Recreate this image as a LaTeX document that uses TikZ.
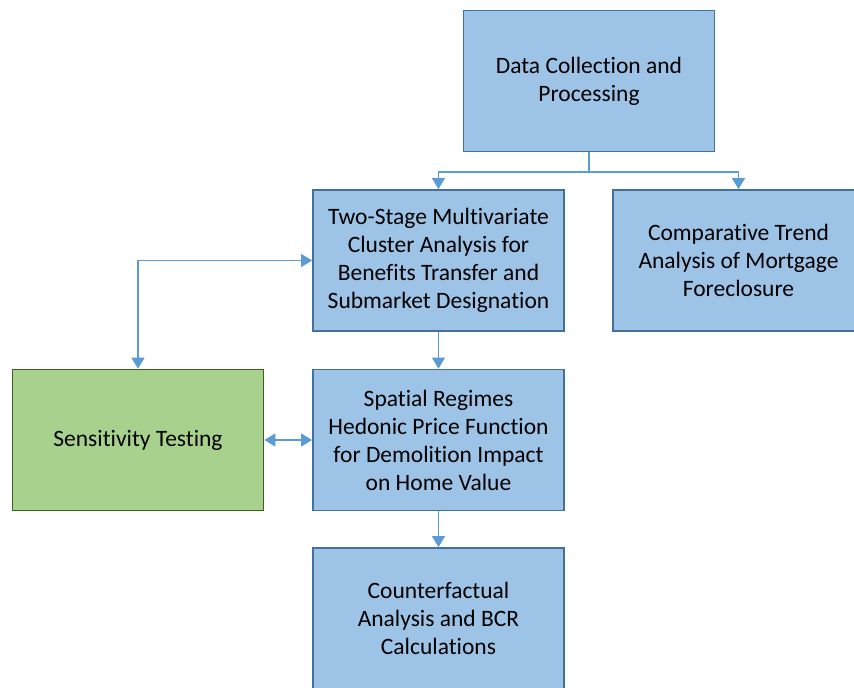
\documentclass[tikz,border=0pt]{standalone}
\usepackage{fontspec}
\setmainfont[Ligatures={NoCommon}]{Carlito}
\usetikzlibrary{arrows.meta}
\definecolor{bfill}{HTML}{9DC3E6}
\definecolor{bdraw}{HTML}{41719C}
\definecolor{gfill}{HTML}{A9D18E}
\definecolor{gdraw}{HTML}{3B5E25}
\definecolor{arr}{HTML}{5B9BD5}
\tikzset{
  box/.style={draw=bdraw, fill=bfill, line width=1.8pt, minimum width=251pt, minimum height=141pt,
    align=center, inner sep=0pt, font=\fontsize{23.5}{28}\selectfont, text=black},
  gbox/.style={box, draw=gdraw, fill=gfill},
  conn/.style={draw=arr, line width=1.3pt, -{Triangle[width=13pt,length=11pt]}},
  conn2/.style={draw=arr, line width=1.3pt, {Triangle[width=13pt,length=11pt]}-{Triangle[width=13pt,length=11pt]}}
}
\begin{document}
\begin{tikzpicture}[x=1pt,y=-1pt]
\useasboundingbox (0,0) rectangle (854,688);
\clip (0,0) rectangle (854,688);
\node[box] (dc) at (589,81) {Data Collection and\\Processing};
\node[box] (ts) at (438.5,260.5) {Two-Stage Multivariate\\Cluster Analysis for\\Benefits Transfer and\\Submarket Designation};
\node[box] (ct) at (738.5,260.5) {Comparative Trend\\Analysis of Mortgage\\Foreclosure};
\node[gbox] (st) at (138,440) {Sensitivity Testing};
\node[box] (sp) at (438.5,440) {Spatial Regimes\\Hedonic Price Function\\for Demolition Impact\\on Home Value};
\node[box] (cf) at (438.5,618.5) {Counterfactual\\Analysis and BCR\\Calculations};
\coordinate (split) at (589,172);
\draw[conn] (dc.south) -- (split) -| (ts.north);
\draw[conn] (split) -| (ct.north);
\draw[conn2] (st.north) |- (ts.west);
\draw[conn] (ts.south) -- (sp.north);
\draw[conn2] (st.east) -- (sp.west);
\draw[conn] (sp.south) -- (cf.north);
\end{tikzpicture}
\end{document}
